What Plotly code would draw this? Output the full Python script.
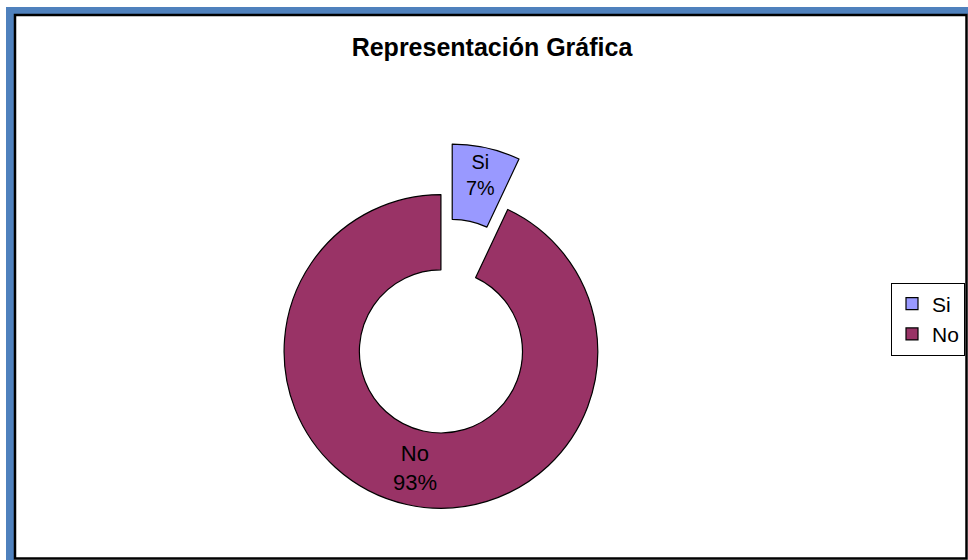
import plotly.graph_objects as go

labels = ["Si", "No"]
values = [7, 93]
colors = ["#9999FF", "#993366"]
pulls = [0.33, 0]

W, H = 968, 560
FONT = "Liberation Sans, Arial, sans-serif"

fig = go.Figure(go.Pie(
    labels=labels,
    values=values,
    sort=False,
    direction="clockwise",
    rotation=0,
    hole=0.52,
    pull=pulls,
    marker=dict(colors=colors, line=dict(color="black", width=1.2)),
    textinfo="label+percent",
    textposition="inside",
    insidetextorientation="horizontal",
    textfont=dict(family=FONT, size=22, color="black"),
    domain=dict(x=[0, 0.911], y=[0, 0.745]),
    hoverinfo="label+percent",
))

shapes = [
    # blue frame (left + top)
    dict(type="rect", xref="paper", yref="paper", x0=6/W, x1=14/W, y0=0, y1=1-7/H,
         fillcolor="#4F81BD", line=dict(width=0), layer="below"),
    dict(type="rect", xref="paper", yref="paper", x0=6/W, x1=1, y0=1-14/H, y1=1-7/H,
         fillcolor="#4F81BD", line=dict(width=0), layer="below"),
    # black chart border
    dict(type="rect", xref="paper", yref="paper", x0=15/W, x1=966.5/W, y0=1.5/H, y1=1-15/H,
         fillcolor="rgba(0,0,0,0)", line=dict(color="black", width=2.5)),
]

fig.update_layout(
    width=W, height=H,
    margin=dict(l=0, r=0, t=0, b=0),
    paper_bgcolor="white",
    plot_bgcolor="white",
    title=dict(text="<b>Representación Gráfica</b>", x=492/W, xanchor="center",
               y=1-47/H, yanchor="middle", yref="container",
               font=dict(family=FONT, size=25, color="black")),
    legend=dict(x=891/W, xanchor="left", y=1-319/H, yanchor="middle",
                bordercolor="black", borderwidth=1, bgcolor="white",
                font=dict(family=FONT, size=21, color="black"),
                itemwidth=30),
    shapes=shapes,
)

fig.write_html("out.html")
